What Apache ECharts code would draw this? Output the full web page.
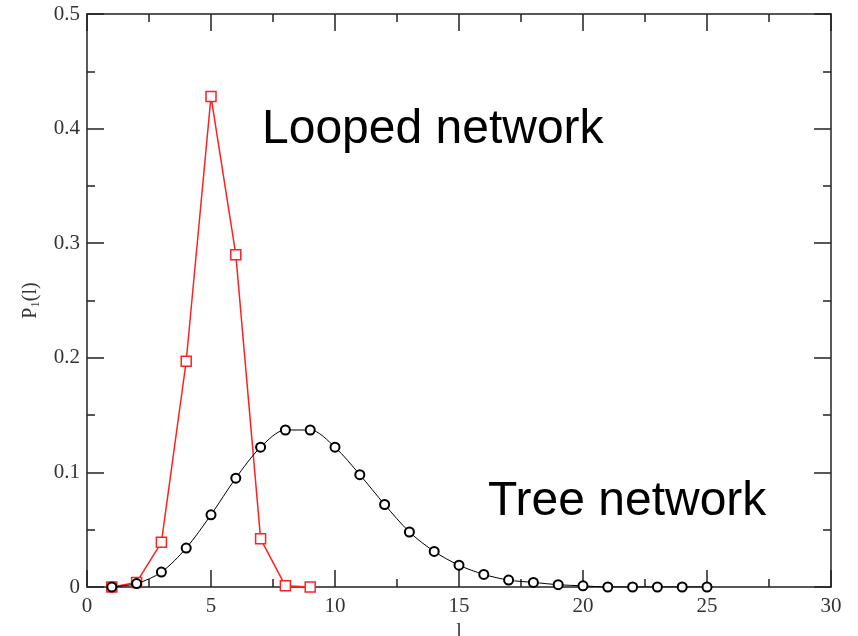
<!DOCTYPE html>
<html><head><meta charset="utf-8">
<script src="https://cdn.jsdelivr.net/npm/echarts@6/dist/echarts.min.js"></script>
<style>html,body{margin:0;padding:0;background:#fff}#c{width:858px;height:636px}</style>
</head><body><div id="c"></div>
<script>
const lValues = [1,2,3,4,5,6,7,8,9,10,11,12,13,14,15,16,17,18,19,20,21,22,23,24,25];
const loopedX = [1,2,3,4,5,6,7,8,9];
const loopedP = [0.0,0.004,0.039,0.197,0.428,0.290,0.042,0.001,0.0];
const treeP = [0.0,0.003,0.013,0.034,0.063,0.095,0.122,0.137,0.137,0.122,0.098,0.072,0.048,0.031,0.019,0.011,0.006,0.004,0.002,0.001,0.0,0.0,0.0,0.0,0.0];
const xTicks = [0,5,10,15,20,25,30];
const yTicks = [0,0.1,0.2,0.3,0.4,0.5];
const labelLooped = 'Looped network';
const labelTree = 'Tree network';

const chart = echarts.init(document.getElementById('c'));
const axCol = '#222';
const serif = '"Liberation Serif", "DejaVu Serif", serif';
function xAx(pos, show){
  return {type:'value', min:0, max:30, interval:5, position:pos,
    axisLine:{show:true, onZero:false, lineStyle:{color:axCol,width:1.5}},
    axisTick:{show:true, inside:true, length:17, lineStyle:{color:axCol,width:1.5}},
    minorTick:{show:true, splitNumber:2, length:8, lineStyle:{color:axCol,width:1.5}},
    axisLabel:{show:show, color:'#333', fontFamily:serif, fontSize:21, margin:9,
      formatter:v=>xTicks.includes(v)?String(v):''},
    splitLine:{show:false},
    name: show?'l':'', nameLocation:'middle', nameGap:29,
    nameTextStyle:{fontFamily:serif, fontSize:20, color:'#333'}};
}
function yAx(pos, show){
  return {type:'value', min:0, max:0.5, interval:0.1, position:pos,
    axisLine:{show:true, onZero:false, lineStyle:{color:axCol,width:1.5}},
    axisTick:{show:true, inside:true, length:17, lineStyle:{color:axCol,width:1.5}},
    minorTick:{show:true, splitNumber:2, length:8, lineStyle:{color:axCol,width:1.5}},
    axisLabel:{show:show, color:'#333', fontFamily:serif, fontSize:21, margin:7,
      formatter:v=>{const r=Math.round(v*10)/10; return yTicks.includes(r)?(r===0?'0':String(r)):'';}},
    splitLine:{show:false},
    name: show?'{p|P}{s|1}{p|(l)}':'', nameLocation:'middle', nameGap:45, nameRotate:90,
    nameTextStyle:{color:'#333', rich:{p:{fontFamily:serif,fontSize:20,color:'#333'}, s:{fontFamily:serif,fontSize:13,color:'#333',verticalAlign:'bottom',padding:[9,0,0,0]}}}};
}
chart.setOption({
  animation:false,
  backgroundColor:'#fff',
  grid:{left:87, right:27, top:14, bottom:49, containLabel:false, outerBoundsMode:'none'},
  xAxis:[xAx('bottom',true), xAx('top',false)],
  yAxis:[yAx('left',true), yAx('right',false)],
  series:[
    {type:'line', name:'looped', xAxisIndex:0, yAxisIndex:0,
      data: loopedX.map((x,i)=>[x,loopedP[i]]),
      lineStyle:{color:'#ff2020', width:1.5},
      symbol:'rect', symbolSize:10,
      itemStyle:{color:'#fff', borderColor:'#ff2020', borderWidth:1.5}, z:2},
    {type:'line', name:'tree', xAxisIndex:0, yAxisIndex:0,
      data: lValues.map((x,i)=>[x,treeP[i]]),
      smooth:0.3,
      lineStyle:{color:'#000', width:1},
      symbol:'circle', symbolSize:9,
      itemStyle:{color:'#fff', borderColor:'#000', borderWidth:2}, z:3}
  ],
  graphic:[
    {type:'text', left:262, top:106, style:{text:labelLooped, font:'48px "Liberation Sans", Arial, sans-serif', fill:'#000'}},
    {type:'text', left:488, top:478, style:{text:labelTree, font:'48px "Liberation Sans", Arial, sans-serif', fill:'#000'}}
  ]
});
</script></body></html>
